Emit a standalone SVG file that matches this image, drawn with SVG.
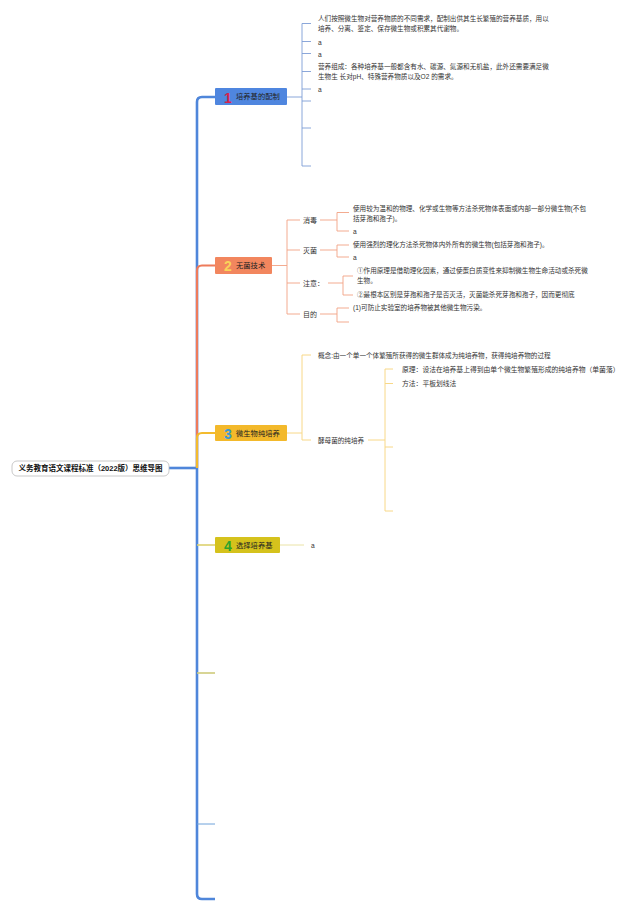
<svg xmlns="http://www.w3.org/2000/svg" width="640" height="912" viewBox="0 0 640 912">
<style>
text{font-family:"Liberation Sans","Noto Sans CJK SC",sans-serif;fill:#333;}
.t{font-size:6.6px;}
.lb{font-size:7px;}
.nt{font-size:7.3px;fill:#222;}
.num{font-size:14px;font-weight:bold;font-family:"Liberation Sans","DejaVu Sans",sans-serif;}
.c1{fill:none;stroke:#7E9DD6;stroke-width:0.9;}
.c2{fill:none;stroke:#F2A283;stroke-width:0.9;}
.c3{fill:none;stroke:#F8D888;stroke-width:1;}
.c4{fill:none;stroke:#EAE3A6;stroke-width:1;}
</style>
<rect x="0" y="0" width="640" height="912" fill="#FFFFFF"/>
<g id="connectors">
<path d="M215 97 H202 Q197 97 197 102 V894 Q197 899 202 899 H215" fill="none" stroke="#4F86DA" stroke-width="2.6"/>
<path d="M169 468 H197" fill="none" stroke="#4F86DA" stroke-width="2.6"/>
<path d="M215 265.5 H202 Q197 265.5 197 270.5 V468" fill="none" stroke="#EE7B5B" stroke-width="2.2"/>
<path d="M215 433 H202 Q197 433 197 438 V468" fill="none" stroke="#F3BB2E" stroke-width="2.2"/>
<path d="M197 545 H215" fill="none" stroke="#DCD16E" stroke-width="1.6"/>
<path d="M197 673 H215" fill="none" stroke="#CFCB7A" stroke-width="1.6"/>
<path d="M197 824 H215" fill="none" stroke="#6FA2DA" stroke-width="1"/>
<path class="c1" d="M287 97 H302 M311 23.5 H302 V166 H311 M302 41.5 H311 M302 53.5 H311 M302 71.5 H311 M302 89 H311 M302 101 H311 M302 128 H311" stroke-width="1"/>
<path class="c2" d="M272 265.5 H287 M300 220 H287 V314 H300 M287 250 H300 M287 283 H300"/>
<path class="c2" d="M320 220 H337 M349 212.5 H337 V231 H349"/>
<path class="c2" d="M320 250 H337 M349 245 H337 V257 H349"/>
<path class="c2" d="M328 283 H343 M353 276 H343 V295 H353"/>
<path class="c2" d="M320 314 H337 M349 308 H337 V322 H349"/>
<path class="c3" d="M287 433 H302 M311 355 H302 V440 H311" stroke-width="1.2"/>
<path class="c3" d="M368 440 H385 M393 369 H385 V511 H393 M385 383.5 H393 M385 447 H393"/>
<path class="c4" d="M280 545 H304"/>
</g>
<g id="root">
<rect x="12" y="461" width="157" height="15" rx="5" fill="#FFFFFF" stroke="#BBBBBB" stroke-width="0.8"/>
<text x="90.5" y="471.3" text-anchor="middle" style="font-size:7.5px;font-weight:bold;fill:#111">义务教育语文课程标准（2022版）思维导图</text>
</g>
<g id="node1">
<rect x="215" y="88" width="72" height="17" rx="1" fill="#4F86DF"/>
<text x="224" y="102.5" class="num" style="fill:#D7234E">1</text>
<text x="236" y="99.3" class="nt">培养基的配制</text>
</g>
<g id="node1-children">
<text x="318" y="21.3" class="t">人们按照微生物对营养物质的不同需求，配制出供其生长繁殖的营养基质，用以</text>
<text x="318" y="31.3" class="t">培养、分离、鉴定、保存微生物或积累其代谢物。</text>
<text x="318" y="45" class="t">a</text>
<text x="318" y="56.5" class="t">a</text>
<text x="318" y="69" class="t">营养组成：各种培养基一般都含有水、碳源、氮源和无机盐，此外还需要满足微</text>
<text x="318" y="79" class="t">生物生 长对pH、特殊营养物质以及O2 的需求。</text>
<text x="318" y="92" class="t">a</text>
</g>
<g id="node2">
<rect x="215" y="257" width="57" height="17" rx="1" fill="#F2865E"/>
<text x="224" y="271" class="num" style="fill:#F9D35A">2</text>
<text x="236" y="268.1" class="nt">无菌技术</text>
</g>
<g id="node2-children">
<text x="303" y="222.5" class="lb">消毒</text>
<text x="303" y="252.5" class="lb">灭菌</text>
<text x="303" y="285.5" class="lb">注意：</text>
<text x="303" y="316.5" class="lb">目的</text>
<text x="353" y="211.3" class="t">使用较为温和的物理、化学或生物等方法杀死物体表面或内部一部分微生物(不包</text>
<text x="353" y="221.3" class="t">括芽孢和孢子)。</text>
<text x="353" y="234.3" class="t">a</text>
<text x="353" y="247.3" class="t">使用强烈的理化方法杀死物体内外所有的微生物(包括芽孢和孢子)。</text>
<text x="353" y="260.3" class="t">a</text>
<text x="357" y="273.3" class="t">①作用原理是借助理化因素，通过使蛋白质变性来抑制微生物生命活动或杀死微</text>
<text x="357" y="283.3" class="t">生物。</text>
<text x="357" y="296.6" class="t">②最根本区别是芽孢和孢子是否灭活，灭菌能杀死芽孢和孢子，因而更彻底</text>
<text x="353" y="310.3" class="t">(1)可防止实验室的培养物被其他微生物污染。</text>
</g>
<g id="node3">
<rect x="215" y="425" width="72" height="16" rx="1" fill="#F3B92B"/>
<text x="224" y="439" class="num" style="fill:#3A9AD3">3</text>
<text x="236" y="435.6" class="nt">微生物纯培养</text>
</g>
<g id="node3-children">
<text x="318" y="357.8" class="t">概念:由一个单一个体繁殖所获得的微生群体成为纯培养物，获得纯培养物的过程</text>
<text x="318" y="442.5" class="t">酵母菌的纯培养</text>
<text x="402" y="371.5" class="t" style="font-size:6.8px">原理：设法在培养基上得到由单个微生物繁殖形成的纯培养物（单菌落）</text>
<text x="402" y="386" class="t" style="font-size:6.8px">方法：平板划线法</text>
</g>
<g id="node4">
<rect x="215" y="537" width="65" height="16" rx="1" fill="#D5C21C"/>
<text x="224" y="550.5" class="num" style="fill:#2DA32D">4</text>
<text x="236" y="547.6" class="nt">选择培养基</text>
<text x="311" y="548" class="t">a</text>
</g>
</svg>
